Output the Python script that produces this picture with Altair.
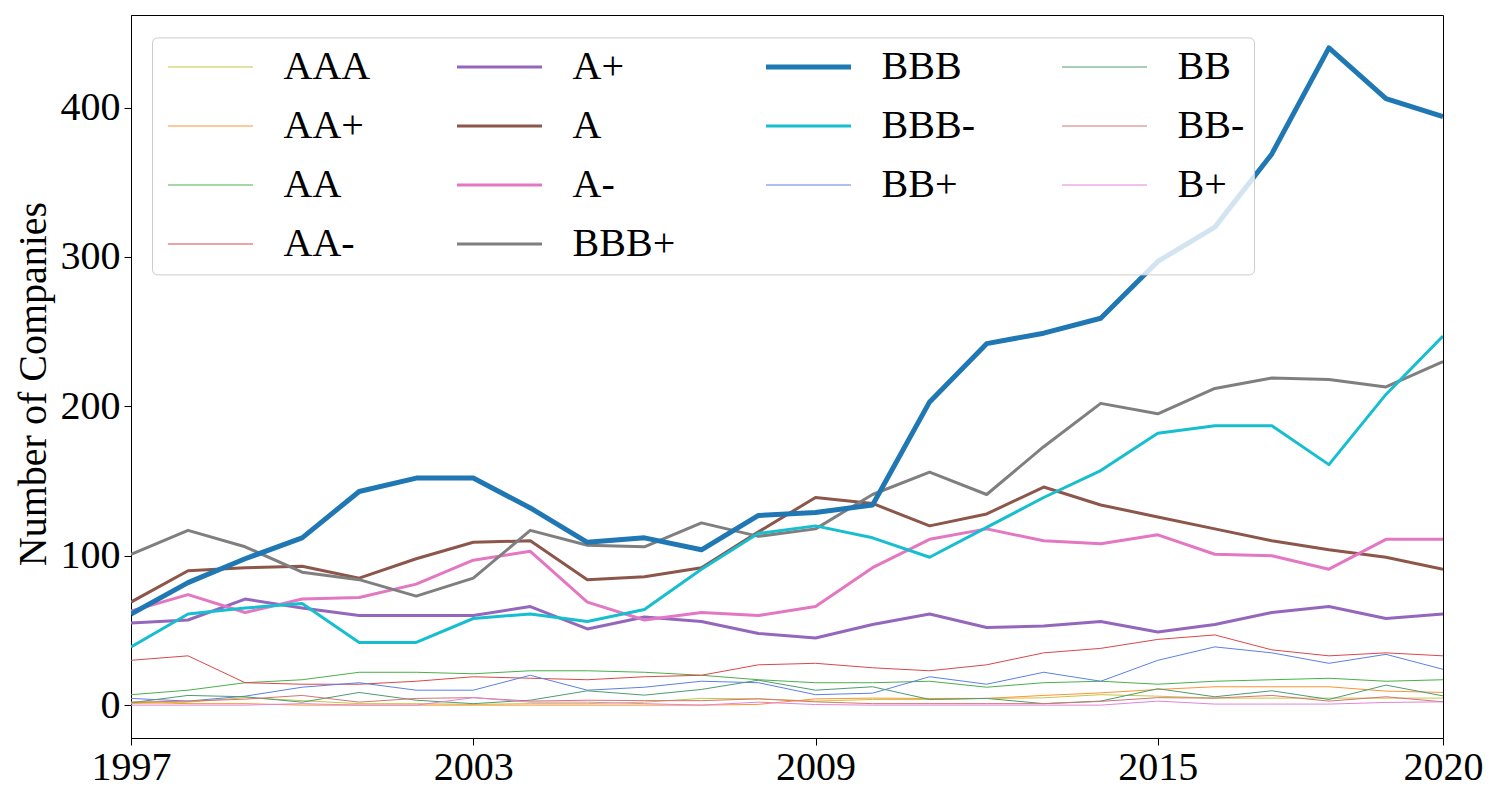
import altair as alt
import pandas as pd

years = list(range(1997, 2021))

AAA = [1, 2, 5, 3, 1, 1, 0.5, 1, 1, 2, 4.5, 4.2, 2.7, 3.8, 3.8, 4.5, 4.9, 7, 6, 4.7, 4.7, 4.7, 4.7, 4.7]
AA_plus = [2, 1, 1, 0, 0, 0, 0, 0, 0, 0, 0, 0.5, 4.2, 4.7, 4.5, 4.5, 6.5, 8.2, 10.5, 12.3, 12.3, 12.3, 9.4, 8.5]
AA = [7, 10, 15, 17, 22, 22, 21, 23, 23, 22, 20, 17, 15, 15, 16, 12, 15, 16, 14, 16, 17, 18, 16, 17]
AA_minus = [30, 33, 15, 14, 14, 16, 19, 18, 17, 19, 20, 27, 28, 25, 23, 27, 35, 38, 44, 47, 37, 33, 35, 33]
A_plus = [55, 57, 71, 65, 60, 60, 60, 66, 51, 59, 56, 48, 45, 54, 61, 52, 53, 56, 49, 54, 62, 66, 58, 61]
A = [69, 90, 92, 93, 85, 98, 109, 110, 84, 86, 92, 116, 139, 135, 120, 128, 146, 134, 126, 118, 110, 104, 99, 91]
A_minus = [63, 74, 62, 71, 72, 81, 97, 103, 69, 57, 62, 60, 66, 92, 111, 118, 110, 108, 114, 101, 100, 91, 111, 111]
BBB_plus = [101, 117, 106, 89, 84, 73, 85, 117, 107, 106, 122, 113, 118, 141, 156, 141, 173, 202, 195, 212, 219, 218, 213, 230]
BBB = [61, 82, 98, 112, 143, 152, 152, 132, 109, 112, 104, 127, 129, 134, 203, 242, 249, 259, 297, 320, 369, 440, 406, 394]
BBB_minus = [39, 61, 65, 68, 42, 42, 58, 61, 56, 64, 91, 115, 120, 112, 99, 119, 139, 157, 182, 187, 187, 161, 208, 247]
BB_plus = [4.5, 2.7, 6, 12, 15, 10, 10, 20, 10, 12, 16, 15, 7, 8, 19, 14, 22, 16, 30, 39, 35, 28, 34, 24]
BB = [1.6, 6.5, 5.6, 2, 8.5, 3.3, 1, 3.3, 9.6, 6.7, 10.5, 16.7, 10, 12.3, 3.8, 4.5, 1, 2.7, 11, 5.6, 9.6, 3.8, 13.4, 6.2]
BB_minus = [2, 2.7, 4, 6.5, 2, 4.5, 5, 2.7, 3.3, 3, 3, 4.2, 2.2, 1, 1, 1, 1, 2.5, 5, 4.7, 6.5, 2.7, 5.6, 2.2]
B_plus = [0, 0, 0, 1, 0, 0, 5, 2, 2, 1, 0, 2, 0.4, 0, 0, 0, 0, 0, 2.7, 0.7, 0.7, 0.7, 1.8, 2.2]

ratings = ["AAA", "AA+", "AA", "AA-", "A+", "A", "A-", "BBB+", "BBB", "BBB-", "BB+", "BB", "BB-", "B+"]
series = [AAA, AA_plus, AA, AA_minus, A_plus, A, A_minus, BBB_plus, BBB, BBB_minus, BB_plus, BB, BB_minus, B_plus]

colors = {
    "AAA": "#c6c743", "AA+": "#ff9232", "AA": "#4cae4c", "AA-": "#dc4748",
    "A+": "#9467bd", "A": "#8c564b", "A-": "#e377c2", "BBB+": "#7f7f7f",
    "BBB": "#1f77b4", "BBB-": "#17becf", "BB+": "#5d7fe6", "BB": "#4d9c70",
    "BB-": "#d57474", "B+": "#e085dc",
}
widths = {
    "AAA": 1, "AA+": 1, "AA": 1, "AA-": 1,
    "A+": 3, "A": 3, "A-": 3, "BBB+": 3,
    "BBB": 5, "BBB-": 3, "BB+": 1, "BB": 1, "BB-": 1, "B+": 1,
}

# legend filled row by row (4 columns), so that columns read as in the picture
legend_order = ["AAA", "A+", "BBB", "BB",
                "AA+", "A", "BBB-", "BB-",
                "AA", "A-", "BB+", "B+",
                "AA-", "BBB+"]

rows = []
for i, (r, vals) in enumerate(zip(ratings, series)):
    for y, v in zip(years, vals):
        rows.append({"year": y, "count": v, "rating": r, "z": i})
df = pd.DataFrame(rows)

FONT = "Liberation Serif"

legend = alt.Legend(
    title=None, orient="none", legendX=21, legendY=22.4, columns=4, direction="horizontal",
    symbolType="M-0.8,0L4.2,0", symbolSize=1156, labelOffset=82,
    rowPadding=19, columnPadding=80, padding=9.6, gridAlign="each",
    fillColor="rgba(255,255,255,0.8)", strokeColor="#cccccc", cornerRadius=5,
    labelFont=FONT, labelFontSize=40, labelColor="black", labelLimit=400,
)

chart = alt.Chart(df).mark_line(clip=True, strokeJoin="round").encode(
    x=alt.X("year:Q",
            scale=alt.Scale(domain=[1997, 2020], nice=False, zero=False),
            axis=alt.Axis(values=[1997, 2003, 2009, 2015, 2020], format="d", title=None,
                          labelFlush=False, labelOverlap=False, labelPadding=2)),
    y=alt.Y("count:Q",
            scale=alt.Scale(domain=[-22, 462], nice=False, zero=False),
            axis=alt.Axis(values=[0, 100, 200, 300, 400], title="Number of Companies",
                          labelPadding=4, titleX=-86, titleY=368.5, titleAngle=270,
                          titleBaseline="alphabetic", titleAlign="center")),
    color=alt.Color("rating:N",
                    scale=alt.Scale(domain=legend_order, range=[colors[r] for r in legend_order]),
                    legend=legend),
    strokeWidth=alt.StrokeWidth("rating:N",
                                scale=alt.Scale(type="ordinal", domain=legend_order,
                                                range=[widths[r] for r in legend_order]),
                                legend=legend),
    order=alt.Order("z:Q"),
).properties(
    width=1312, height=723,
    autosize=alt.AutoSizeParams(type="none"),
    padding={"left": 123, "top": 7, "right": 45, "bottom": 50},
).configure_view(
    stroke="black", strokeWidth=1
).configure_axis(
    domainColor="black", tickColor="black", labelColor="black", titleColor="black",
    labelFont=FONT, titleFont=FONT, labelFontSize=40, titleFontSize=40,
    titleFontWeight="normal", tickSize=7, grid=False, domainWidth=1, tickWidth=1,
)

chart.save("out.html", embed_options={"renderer": "svg", "actions": False})
